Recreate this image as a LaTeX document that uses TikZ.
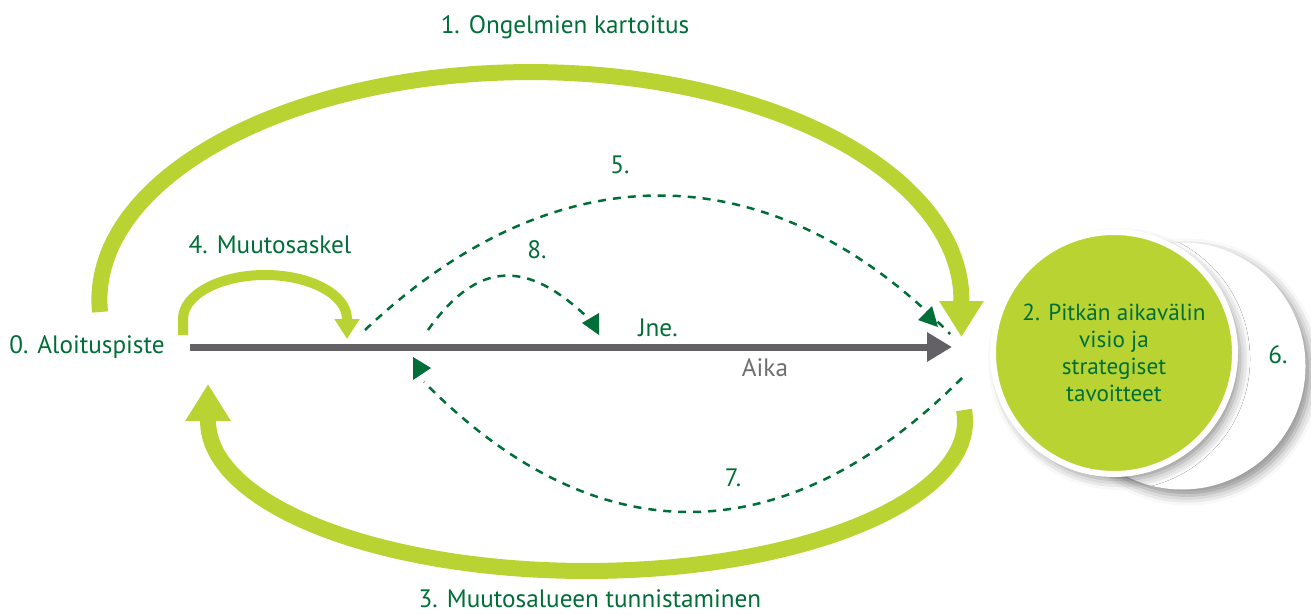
\documentclass[tikz,border=0pt]{standalone}
\usepackage{fontspec}
\setmainfont{PT Sans}
\usetikzlibrary{arrows.meta,shadows.blur}
\definecolor{lgreen}{RGB}{185,212,50}
\definecolor{dgreen}{RGB}{0,110,55}
\definecolor{axisgray}{RGB}{99,97,101}
\definecolor{txtgray}{RGB}{110,110,112}
\begin{document}
\begin{tikzpicture}[x=0.5pt,y=-0.5pt,
  lbl/.style={text=dgreen,font=\fontsize{12.6}{14}\selectfont,inner sep=0pt},
  bigarc/.style={draw=lgreen,line width=8pt},
  dashline/.style={draw=dgreen,line width=1.25pt,dash pattern=on 4pt off 3.5pt},
  headtri/.style={fill=dgreen},
  shad/.style={blur shadow={shadow xshift=2.5pt,shadow yshift=-3pt,shadow blur radius=5pt,shadow opacity=45}}]
\useasboundingbox (0,0) rectangle (1311,615);

% circles
\node[circle,fill=white,minimum size=123.5pt,inner sep=0pt,shad] (c6) at (1182,366) {};
\node[circle,fill=lgreen,draw=white,line width=3pt,minimum size=121pt,inner sep=0pt,shad,
      text=dgreen,align=center,font=\fontsize{11.6}{13.6}\selectfont] (c2) at (1114,353)
      {2. Pitkän aikavälin\\visio ja\\strategiset\\tavoitteet};
\node[lbl] (t6) at (1278,355) {6.};

% time axis
\coordinate (ax0) at (190,347);
\coordinate (ax1) at (952,347);
\draw[axisgray,line width=3.5pt,-{Triangle[length=12.5pt,width=14pt]}] (ax0) -- (ax1);

% 1: top arc
\coordinate (a1s) at (100,312);
\draw[bigarc,-{Triangle[length=18pt,width=21pt]}] (a1s)
   arc[start angle=183,end angle=0,x radius=215.5pt,y radius=114pt] -- ++(0,37);

% 3: bottom arc
\coordinate (a3s) at (964,410);
\draw[bigarc,-{Triangle[length=18.5pt,width=21.5pt]}] (a3s)
   arc[start angle=4.2,end angle=-180,x radius=189.25pt,y radius=75pt] -- ++(0,-37);

% 4: small arc
\coordinate (a4s) at (183,335);
\draw[draw=lgreen,line width=5pt,-{Triangle[length=10pt,width=12pt]}] (a4s) -- (183,319)
   arc[start angle=180,end angle=0,x radius=41pt,y radius=22pt] -- ++(0,20);

% 5
\coordinate (d5s) at (365,330);
\coordinate (d5e) at (950,334);
\draw[dashline] (d5s) .. controls (555,150) and (770,150) .. (d5e);
\fill[headtri] (932,306) -- (918,320) -- (938,327) -- cycle;

% 8
\coordinate (d8s) at (428,330);
\coordinate (d8e) at (586,316);
\draw[dashline] (d8s) .. controls (478,260) and (526,260) .. (d8e);
\fill[headtri] (582,323) -- (599,313) -- (599,335) -- cycle;

% 7
\coordinate (d7s) at (962,378);
\coordinate (d7e) at (424,382);
\draw[dashline] (d7s) .. controls (784,556) and (596,556) .. (d7e);
\fill[headtri] (413,357) -- (431,368) -- (413,380) -- cycle;

% labels
\node[lbl] (t1) at (565,27) {1. Ongelmien kartoitus};
\node[lbl] (t5) at (620,165) {5.};
\node[lbl] (t4) at (270,245) {4. Muutosaskel};
\node[lbl] (t8) at (537,250) {8.};
\node[lbl] (tj) at (658,328) {Jne.};
\node[lbl] (t0) at (87,347) {0. Aloituspiste};
\node[lbl,text=txtgray] (ta) at (765,368) {Aika};
\node[lbl] (t7) at (733,478) {7.};
\node[lbl] (t3) at (590,599) {3. Muutosalueen tunnistaminen};
\end{tikzpicture}
\end{document}
